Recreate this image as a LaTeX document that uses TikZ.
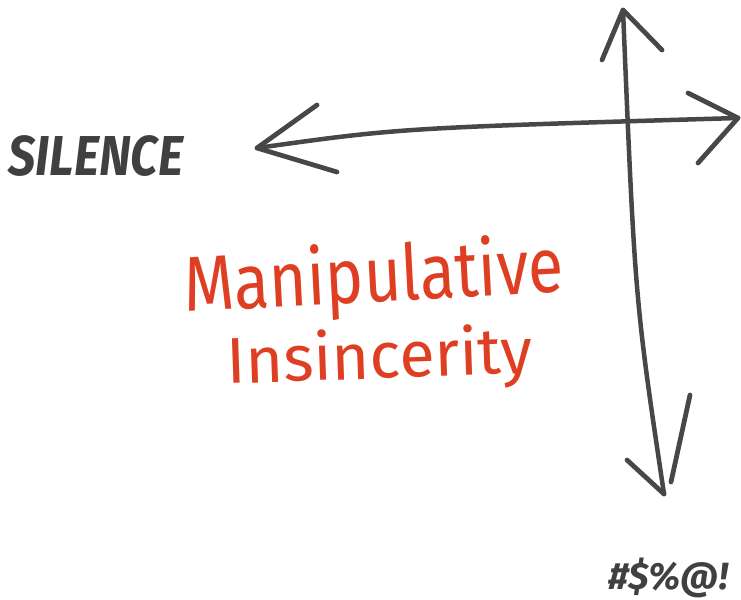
\documentclass[tikz,border=0pt]{standalone}
\usepackage{fontspec}
\setmainfont{Fira Sans}
\begin{document}
\begin{tikzpicture}[x=0.025cm, y=-0.025cm]
   \tikzstyle{every path}=[line cap=round, line join=round]
   \tikzstyle{axis}=[draw=black!72, line width=3.2pt]
   \tikzstyle{barb}=[draw=black!72, line width=3.4pt]
   \tikzstyle{tag}=[text=black!75, font=\bfseries\itshape, inner sep=0pt]
   \tikzstyle{quadrant}=[text={rgb,255:red,222;green,62;blue,34}, font=\fontsize{46}{50}\selectfont, inner sep=0pt]

\useasboundingbox (0,0) rectangle (741,599);

\coordinate (silenceTip) at (257,148);
\coordinate (rightTip) at (738,118);
\coordinate (upTip) at (623,10);
\coordinate (downTip) at (664,494);

\draw[axis] (silenceTip) .. controls (400,128) .. (rightTip);
\draw[axis] (upTip) .. controls (635,300) .. (downTip);

\draw[barb] (317,105) -- (silenceTip) -- (337,172);
\draw[barb] (688,93) -- (rightTip) -- (698,163);
\draw[barb] (602,60) -- (upTip) -- (662,50);
\draw[barb] (627,460) -- (downTip);
\draw[barb] (690,395) -- (671,482);

\node[tag, font=\bfseries\itshape\fontsize{40}{42}\selectfont, xscale=0.86] (silence) at (96,156) {SILENCE};
\node[tag, font=\bfseries\itshape\fontsize{27}{29}\selectfont] (swear) at (668,578) {\#\$\%@!};

\node[quadrant, rotate=3, yscale=1.2] (manip) at (374,280) {Manipulative};
\node[quadrant, rotate=2] (insinc) at (380,360) {Insincerity};

\end{tikzpicture}
\end{document}
